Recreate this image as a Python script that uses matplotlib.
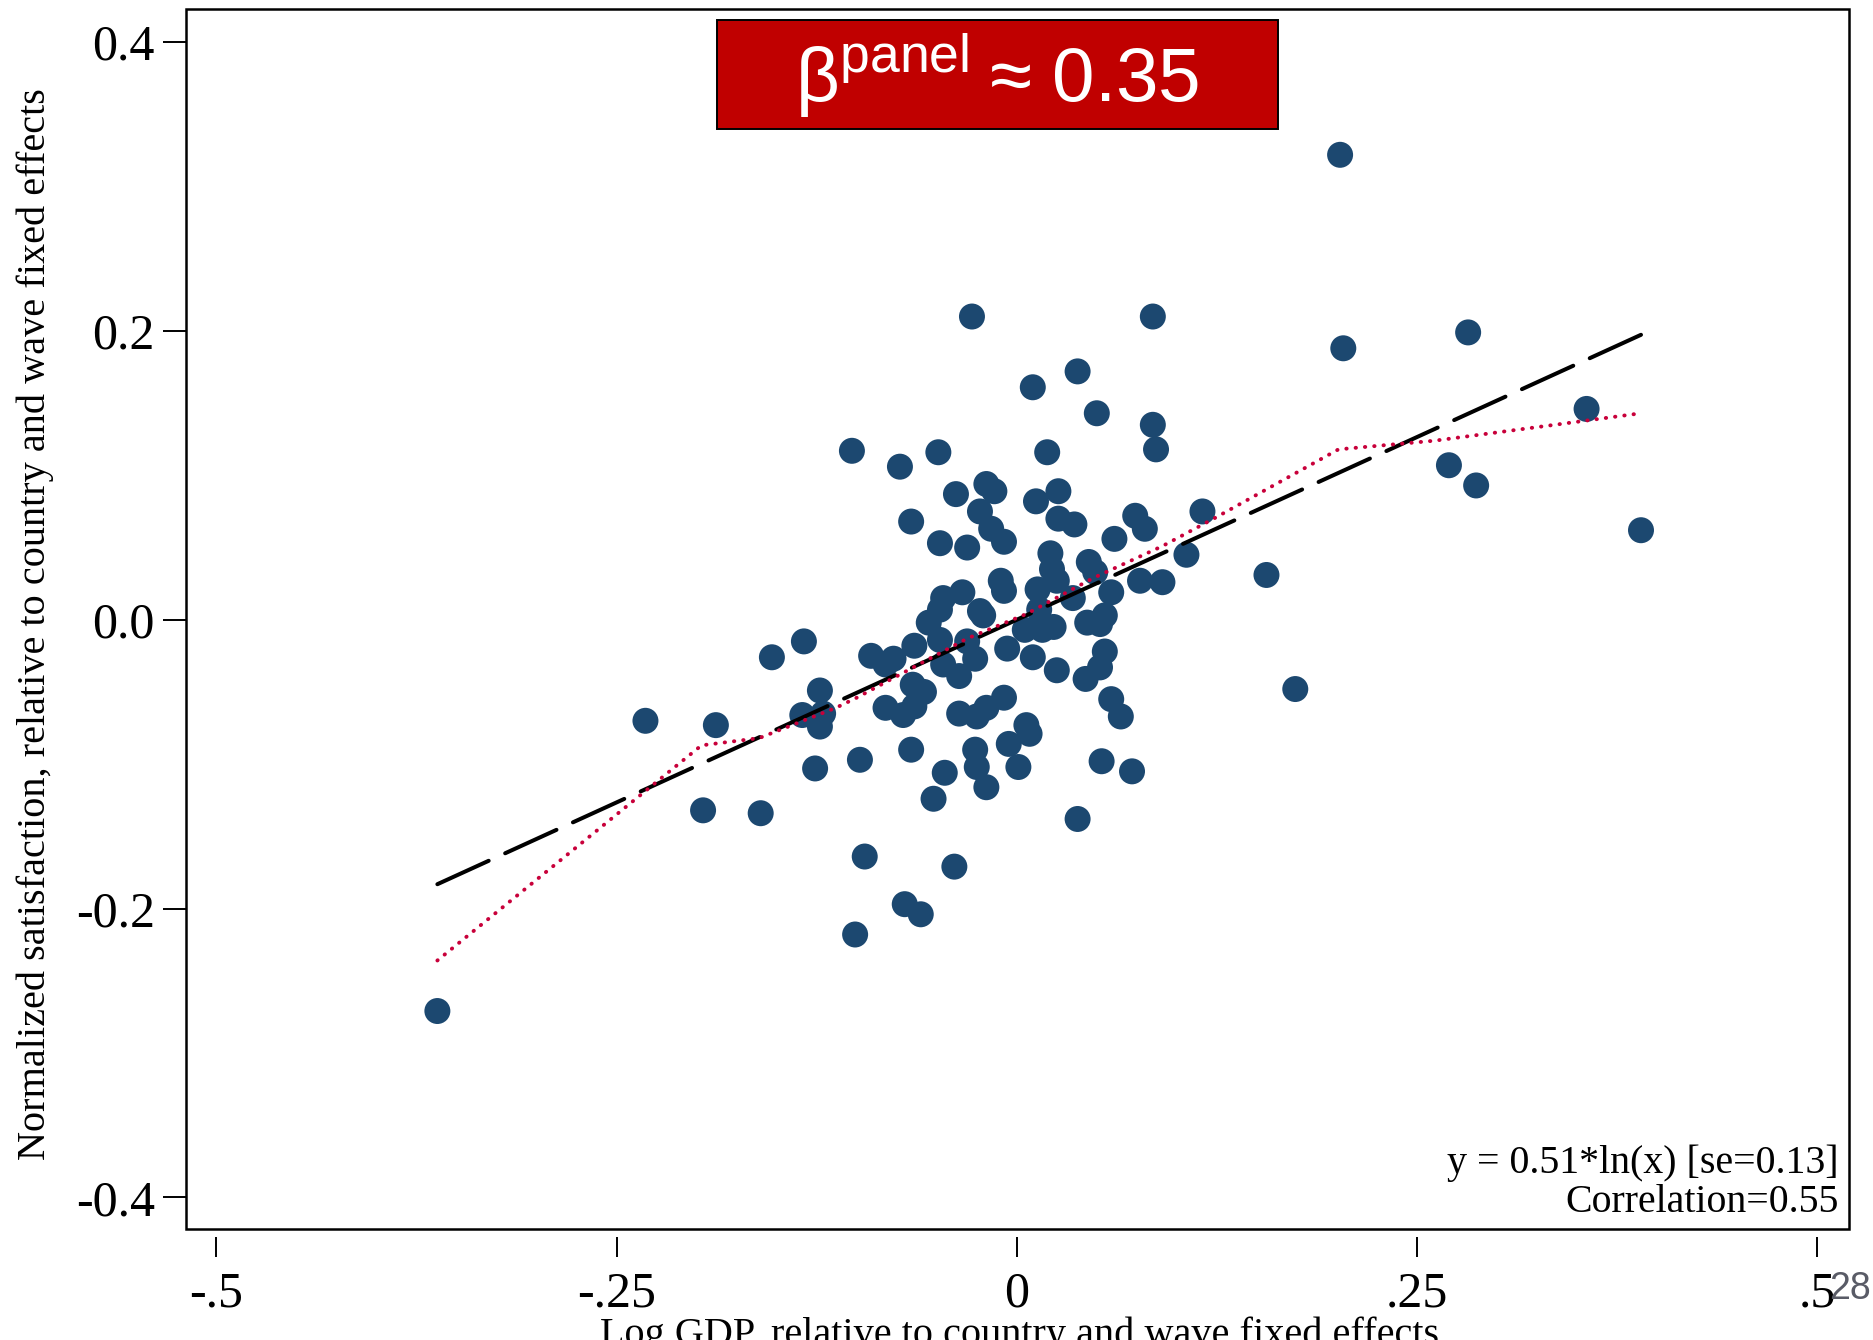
import matplotlib
matplotlib.use("Agg")
import matplotlib.pyplot as plt
from matplotlib.patches import Rectangle
import numpy as np

# scatter: log GDP vs normalized satisfaction (both relative to FE)
gdp = [
    -0.362, -0.232, -0.188, -0.196, -0.160, -0.153, -0.133, -0.134, -0.123, -0.123,
    -0.121, -0.126, -0.103, -0.098, -0.095, -0.101, -0.091, -0.082, -0.077, -0.082,
    -0.073, -0.066, -0.064, -0.070, -0.060, -0.066, -0.071, -0.064, -0.065, -0.058,
    -0.052, -0.049, -0.048, -0.055, -0.048, -0.046, -0.048, -0.046, -0.045, -0.038,
    -0.039, -0.036, -0.034, -0.031, -0.028, -0.036, -0.031, -0.026, -0.025, -0.026,
    -0.025, -0.023, -0.023, -0.021, -0.019, -0.019, -0.019, -0.016, -0.014, -0.010,
    -0.008, -0.008, -0.008, -0.006, -0.005, 0.001, 0.005, 0.006, 0.008, 0.010,
    0.010, 0.012, 0.013, 0.014, 0.016, 0.019, 0.021, 0.022, 0.023, 0.025,
    0.025, 0.026, 0.026, 0.036, 0.035, 0.038, 0.038, 0.043, 0.045, 0.044,
    0.049, 0.050, 0.052, 0.052, 0.053, 0.055, 0.055, 0.059, 0.059, 0.061,
    0.065, 0.072, 0.074, 0.077, 0.080, 0.085, 0.085, 0.087, 0.091, 0.106,
    0.116, 0.156, 0.174, 0.202, 0.204, 0.270, 0.282, 0.287, 0.356, 0.390,
]
satisfaction = [
    -0.271, -0.070, -0.073, -0.132, -0.134, -0.026, -0.015, -0.066, -0.049, -0.074,
    -0.065, -0.103, 0.117, -0.097, -0.164, -0.218, -0.025, -0.031, -0.027, -0.061,
    0.106, 0.068, -0.018, -0.197, -0.204, -0.090, -0.066, -0.060, -0.045, -0.050,
    -0.124, 0.116, 0.053, -0.002, 0.007, 0.015, -0.014, -0.031, -0.106, 0.087,
    -0.171, -0.065, 0.019, 0.050, 0.210, -0.039, -0.015, -0.027, -0.067, -0.090,
    -0.102, 0.075, 0.006, 0.003, 0.094, -0.061, -0.116, 0.063, 0.089, 0.027,
    0.054, 0.020, -0.054, -0.020, -0.086, -0.102, -0.007, -0.073, -0.079, -0.026,
    0.161, 0.082, 0.021, 0.007, -0.007, 0.116, 0.046, 0.035, -0.005, 0.027,
    -0.035, 0.089, 0.070, 0.066, 0.015, -0.138, 0.172, -0.041, 0.040, -0.002,
    0.033, 0.143, -0.003, -0.033, -0.098, -0.022, 0.003, 0.019, -0.055, 0.056,
    -0.067, -0.105, 0.072, 0.027, 0.063, 0.135, 0.210, 0.118, 0.026, 0.045,
    0.075, 0.031, -0.048, 0.322, 0.188, 0.107, 0.199, 0.093, 0.146, 0.062,
]

# local (lowess) smoother
lowess_x = [-0.362, -0.197, -0.161, -0.113, -0.100, -0.031, 0.006, 0.048, 0.091, 0.123, 0.201, 0.261, 0.336, 0.390]
lowess_y = [-0.236, -0.087, -0.082, -0.061, -0.054, -0.013, 0.004, 0.029, 0.051, 0.070, 0.118, 0.124, 0.135, 0.143]

fit_slope = 0.506
fit_intercept = 0.0

x_ticks = [-0.5, -0.25, 0, 0.25, 0.5]
x_ticklabels = ["-.5", "-.25", "0", ".25", ".5"]
y_ticks = [-0.4, -0.2, 0.0, 0.2, 0.4]
y_ticklabels = ["-0.4", "-0.2", "0.0", "0.2", "0.4"]

plt.rcParams["font.family"] = ["Liberation Serif", "DejaVu Serif"]

fig = plt.figure(figsize=(18.74, 13.40), dpi=100)
ax = fig.add_axes([0.0993, 0.0828, 0.8874, 0.9105])

ax.scatter(gdp, satisfaction, s=350, color="#1c4870", edgecolors="none", zorder=3)

fx = np.array([min(gdp), max(gdp)])
ax.plot(fx, fit_slope * fx + fit_intercept, color="black", lw=2.9,
        dashes=(14, 4.5), dash_capstyle="round", zorder=4)
ax.plot(lowess_x, lowess_y, color="#c8003a", lw=2.8,
        dashes=(0.1, 2.3), dash_capstyle="round", zorder=5)

ax.set_xlim(-0.519, 0.520)
ax.set_ylim(-0.422, 0.423)

for s in ax.spines.values():
    s.set_visible(False)
ax.spines["bottom"].set_position(("outward", 6))
ax.add_patch(Rectangle((0, 0), 1, 1, transform=ax.transAxes, fill=False,
                       lw=1.8, edgecolor="black", clip_on=False, zorder=6))

ax.set_xticks(x_ticks)
ax.set_xticklabels(x_ticklabels)
ax.set_yticks(y_ticks)
ax.set_yticklabels(y_ticklabels)
ax.tick_params(axis="x", length=14.5, width=1.4, pad=10, labelsize=36)
ax.tick_params(axis="y", length=16.5, width=1.4, pad=6, labelsize=36)

fig.text(0.019, 0.534, "Normalized satisfaction, relative to country and wave fixed effects",
         rotation=90, ha="center", va="center", fontsize=29)
fig.text(0.544, 0.0175, "Log GDP, relative to country and wave fixed effects",
         ha="center", va="top", fontsize=29)

ax.text(0.9935, 0.046, "y = 0.51*ln(x) [se=0.13]", transform=ax.transAxes,
        ha="right", va="baseline", fontsize=28.7)
ax.text(0.9935, 0.0137, "Correlation=0.55", transform=ax.transAxes,
        ha="right", va="baseline", fontsize=28.7)

# red beta box
plt.rcParams["mathtext.fontset"] = "custom"
plt.rcParams["mathtext.rm"] = "Liberation Sans"
box_l, box_r = 717 / 1874, 1278 / 1874
box_t, box_b = 1 - 20 / 1340, 1 - 129 / 1340
fig.patches.append(Rectangle((box_l, box_b), box_r - box_l, box_t - box_b,
                             transform=fig.transFigure, facecolor="#c00000",
                             edgecolor="black", lw=1.4, zorder=10))
fig.text((box_l + box_r) / 2, (box_t + box_b) / 2 - 0.001,
         r"$\mathrm{β}^{\mathrm{panel}}\:\mathrm{≈}\;\mathrm{0.35}$",
         color="white", fontsize=55, ha="center", va="center", zorder=11)

# slide page number
fig.text(1850 / 1874, 1 - 1289 / 1340, "28", color="#595b66", fontsize=27,
         family="Liberation Sans", ha="center", va="center")

fig.savefig("out.png", dpi=100)
